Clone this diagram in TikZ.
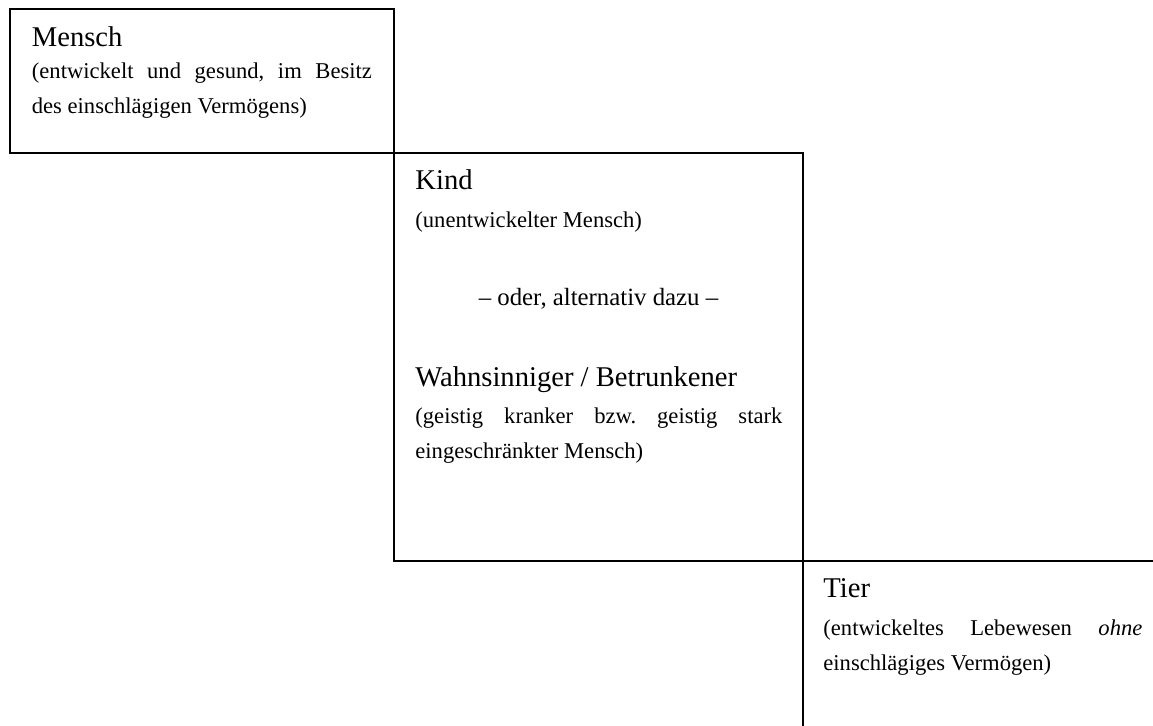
\documentclass[tikz,border=0pt]{standalone}
\usepackage{fontspec}
\setmainfont{Liberation Serif}
\frenchspacing
\newcommand{\headfont}{\fontsize{14.3}{17}\selectfont}
\newcommand{\descfont}{\fontsize{11.3}{17.8}\selectfont}
\newcommand{\orfont}{\fontsize{12.4}{15}\selectfont}
\begin{document}
\begin{tikzpicture}[x=0.5pt,y=-0.5pt,
    cell/.style={line width=1pt},
    head/.style={anchor=base west,inner sep=0pt,font=\headfont},
    desc/.style={anchor=base west,inner sep=0pt,font=\descfont,align=justify}]
  \clip (0,0) rectangle (1153,725);
  % the three cells, corner to corner
  \draw[cell] (10,9) rectangle (394,153);
  \draw[cell] (394,153) rectangle (803,561);
  \draw[cell] (803,561) rectangle (1170,740);
  % Mensch
  \node[head] (M) at (31.5,46) {Mensch};
  \node[desc,text width=170pt] (MD) at (31.5,78)
    {(entwickelt und gesund, im Besitz\linebreak des einschlägigen Vermögens)};
  % Kind / Wahnsinniger
  \node[head] (K) at (415,189) {Kind};
  \node[desc,text width=183.5pt] (KD) at (415,227) {(unentwickelter Mensch)};
  \node[anchor=base,inner sep=0pt,font=\orfont] (ODER) at (598.5,305)
    {– oder, alternativ dazu –};
  \node[head] (W) at (415,386) {Wahnsinniger / Betrunkener};
  \node[desc,text width=183.5pt] (WD) at (415,423)
    {(geistig kranker bzw. geistig stark\linebreak eingeschränkter Mensch)};
  % Tier
  \node[head] (T) at (823,597) {Tier};
  \node[desc,text width=159.5pt] (TD) at (823,635)
    {(entwickeltes Lebewesen \emph{ohne}\linebreak einschlägiges Vermögen)};
\end{tikzpicture}
\end{document}
